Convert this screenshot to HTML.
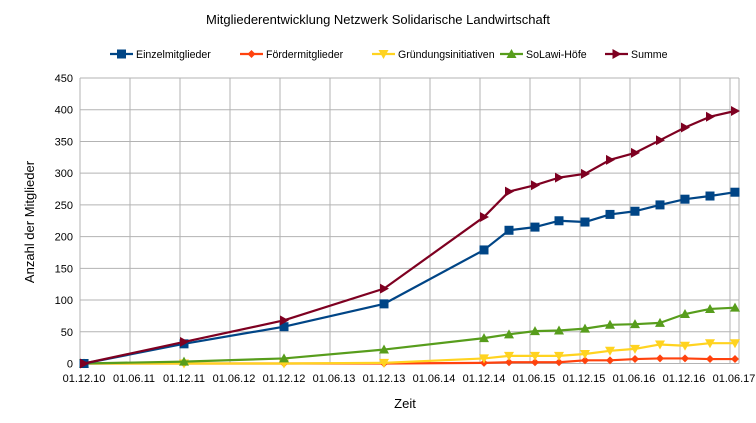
<!DOCTYPE html>
<html><head><meta charset="utf-8"><style>body{margin:0;background:#fff}svg{display:block}text{font-family:"Liberation Sans",sans-serif;fill:#000}</style></head>
<body>
<svg width="756" height="423" xmlns="http://www.w3.org/2000/svg">
<rect width="756" height="423" fill="#fff"/>
<text x="378" y="24" font-size="13" text-anchor="middle">Mitgliederentwicklung Netzwerk Solidarische Landwirtschaft</text>
<g id="grid" stroke="#b3b3b3" stroke-width="1"></g>
<g id="ylab" font-size="11" text-anchor="end"></g>
<g id="xlab" font-size="11" text-anchor="middle"></g>
<text x="405" y="408" font-size="13" text-anchor="middle">Zeit</text>
<text transform="translate(34,222) rotate(-90)" font-size="13" text-anchor="middle">Anzahl der Mitglieder</text>
<g id="series"></g>
<g id="legend" font-size="10.6"></g>
</svg>
<script>
const NS="http://www.w3.org/2000/svg";
function el(p,t,a,txt){const e=document.createElementNS(NS,t);for(const k in a)e.setAttribute(k,a[k]);if(txt!=null)e.textContent=txt;document.getElementById(p)?document.getElementById(p).appendChild(e):p.appendChild(e);return e;}
const Y=v=>363.5-v*0.6344;
for(let i=0;i<=9;i++){const y=Y(i*50);el('grid','line',{x1:80,x2:739,y1:y,y2:y});el('ylab','text',{x:73,y:y+4},String(i*50));}
const xl=["01.12.10","01.06.11","01.12.11","01.06.12","01.12.12","01.06.13","01.12.13","01.06.14","01.12.14","01.06.15","01.12.15","01.06.16","01.12.16","01.06.17"];
for(let k=0;k<14;k++){const x=80+50*k;el('grid','line',{x1:x,x2:x,y1:Y(450),y2:Y(0)});el('xlab','text',{x:84+50*k,y:382},xl[k]);}
el('grid','line',{x1:739,x2:739,y1:Y(450),y2:Y(0)});
const X=[84,184,284,384,484,509,535,559,585,610,635,660,685,710,735];
const S=[
["#ff420e","dia",[0,0,0,0,1,2,2,2,5,5,7,8,8,7,7]],
["#ffd320","tri-d",[0,0,0,1,8,12,12,12,15,20,23,30,28,32,32]],
["#579d1c","tri-u",[0,3,8,22,40,46,51,52,55,61,62,64,78,86,88]],
["#004586","sq",[0,31,58,94,179,210,215,225,223,235,240,250,259,264,270]],
["#7e0021","tri-r",[0,34,68,118,231,271,281,293,299,321,332,352,372,389,398]]];
function marker(g,type,x,y,c){
 if(type=="sq")el(g,'rect',{x:x-4.5,y:y-4.5,width:9,height:9,fill:c});
 else if(type=="dia")el(g,'polygon',{points:`${x},${y-4} ${x+4},${y} ${x},${y+4} ${x-4},${y}`,fill:c});
 else if(type=="tri-d")el(g,'polygon',{points:`${x-5},${y-4} ${x+5},${y-4} ${x},${y+5}`,fill:c});
 else if(type=="tri-u")el(g,'polygon',{points:`${x-5},${y+4} ${x+5},${y+4} ${x},${y-5}`,fill:c});
 else el(g,'polygon',{points:`${x-4},${y-5} ${x-4},${y+5} ${x+5},${y}`,fill:c});
}
const sg=document.getElementById('series');
for(const [c,t,d] of S){
 el(sg,'polyline',{points:d.map((v,i)=>X[i]+","+Y(v)).join(" "),fill:"none",stroke:c,"stroke-width":2.2,"stroke-linejoin":"round"});
 d.forEach((v,i)=>marker(sg,t,X[i],Y(v),c));
}
const L=[[110,"Einzelmitglieder","#004586","sq"],[240,"Fördermitglieder","#ff420e","dia"],[372,"Gründungsinitiativen","#ffd320","tri-d"],[500,"SoLawi-Höfe","#579d1c","tri-u"],[605,"Summe","#7e0021","tri-r"]];
const lg=document.getElementById('legend');
for(const [x,n,c,t] of L){el(lg,'line',{x1:x,x2:x+23,y1:54,y2:54,stroke:c,"stroke-width":2.2});marker(lg,t,x+11.5,54,c);el(lg,'text',{x:x+26,y:58},n);}
</script>
</body></html>
